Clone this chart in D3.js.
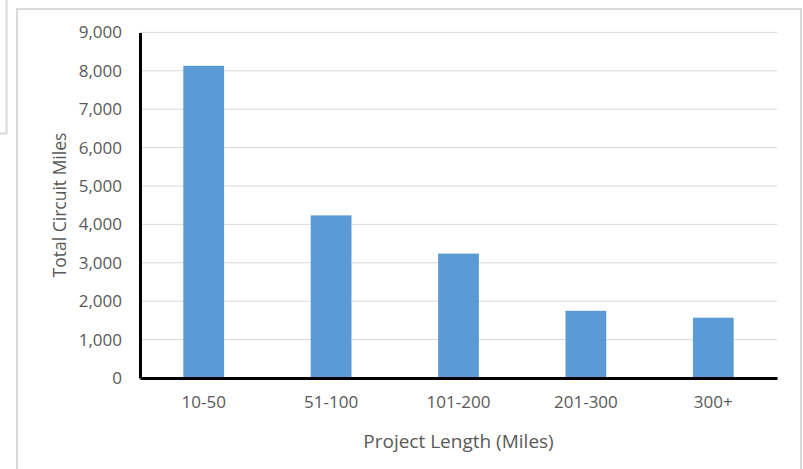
<!DOCTYPE html>
<html><head><meta charset="utf-8">
<script src="https://cdn.jsdelivr.net/npm/d3@7"></script>
<style>body{margin:0;background:#fff;}svg{display:block;font-family:"Open Sans",sans-serif;}</style>
</head><body><svg id="c" width="803" height="469"></svg>
<script>
const categories = ["10-50","51-100","101-200","201-300","300+"];
const values = [8130, 4235, 3240, 1750, 1570];
const yTicks = [0,1000,2000,3000,4000,5000,6000,7000,8000,9000];

const svg = d3.select("#c");
// frame artifacts
svg.append("rect").attr("x",-2).attr("y",-2).attr("width",8.5).attr("height",135.5)
  .attr("fill","none").attr("stroke","#d9d9d9").attr("stroke-width",2);
svg.append("rect").attr("x",17).attr("y",9).attr("width",784).attr("height",470)
  .attr("fill","#fff").attr("stroke","#d9d9d9").attr("stroke-width",2);

const m = {left:140, right:777, top:32.4, bottom:378};
const x = d3.scaleBand().domain(categories).range([m.left, m.right]).paddingInner(0).paddingOuter(0);
const y = d3.scaleLinear().domain([0,9000]).range([m.bottom, m.top]);

// gridlines
svg.append("g").selectAll("line").data(yTicks.slice(1)).join("line")
  .attr("x1",m.left).attr("x2",m.right).attr("y1",d=>y(d)).attr("y2",d=>y(d))
  .attr("stroke","#d9d9d9").attr("stroke-width",1);

// bars
const bw = x.bandwidth()*0.32;
svg.append("g").selectAll("rect").data(values).join("rect")
  .attr("x",(d,i)=>x(categories[i])+x.bandwidth()/2-bw/2)
  .attr("width",bw)
  .attr("y",d=>y(d)).attr("height",d=>y(0)-y(d))
  .attr("fill","#5b9bd5");

// y axis
const ya = d3.axisLeft(y).tickValues(yTicks).tickFormat(d3.format(",")).tickSize(0).tickPadding(18);
const gy = svg.append("g").attr("transform",`translate(${m.left},0)`).call(ya);
gy.select(".domain").attr("stroke","#000").attr("stroke-width",3);
gy.selectAll("text").attr("fill","#595959").attr("font-size",17).attr("font-family","Open Sans, sans-serif");

// x axis
const xa = d3.axisBottom(x).tickSize(0).tickPadding(18);
const gx = svg.append("g").attr("transform",`translate(0,${m.bottom})`).call(xa);
gx.select(".domain").attr("stroke","#000").attr("stroke-width",3);
gx.selectAll("text").attr("fill","#595959").attr("font-size",17).attr("font-family","Open Sans, sans-serif");

// titles
svg.append("text").attr("x",(m.left+m.right)/2).attr("y",448).attr("text-anchor","middle")
  .attr("fill","#595959").attr("font-size",19).text("Project Length (Miles)");
svg.append("text").attr("transform",`translate(66,205) rotate(-90)`)
  .attr("text-anchor","middle").attr("fill","#595959").attr("font-size",17.5).text("Total Circuit Miles");
</script></body></html>
